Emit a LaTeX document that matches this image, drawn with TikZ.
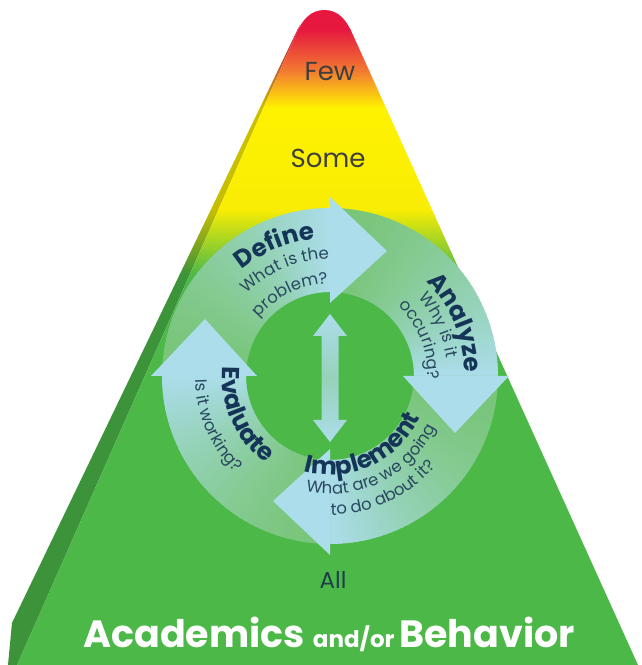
\documentclass[tikz,border=0pt]{standalone}
\usepackage{fontspec}
\setmainfont{Poppins}
\usetikzlibrary{decorations.text}
\definecolor{grn}{RGB}{76,184,72}
\definecolor{yel}{RGB}{255,242,0}
\definecolor{yel2}{RGB}{248,237,4}
\definecolor{org}{RGB}{242,125,48}
\definecolor{rd}{RGB}{230,24,64}
\definecolor{tailc}{RGB}{120,197,120}
\definecolor{headc}{RGB}{172,221,235}
\definecolor{midc}{RGB}{150,210,185}
\definecolor{titlec}{RGB}{20,52,88}
\definecolor{subc}{RGB}{40,72,95}
\definecolor{graytxt}{RGB}{62,62,62}
\definecolor{allc}{RGB}{30,62,72}
\newcommand{\gradrects}{%
  \fill[grn] (0,-1) rectangle (641,390.5);
  \shade[bottom color=grn, top color=yel2] (0,390) rectangle (641,455.5);
  \shade[bottom color=yel2, top color=yel] (0,455) rectangle (641,557.5);
  \shade[bottom color=yel, top color=org] (0,557) rectangle (641,593.5);
  \shade[bottom color=org, top color=rd] (0,593) rectangle (641,635.5);
  \fill[rd] (0,635) rectangle (641,700);
}
\newcommand{\titlefmt}{\fontsize{24.5}{28}\selectfont\bfseries}
\newcommand{\subfmt}{\fontsize{16.5}{19}\selectfont}
% clockwise label: angle, radius, font, colour, text
\newcommand{\cwlabel}[5]{%
  \path[decorate,decoration={text along path,text align=center,text color=#4,text={|#3|#5}}]
    (#1+70:#2) arc[start angle=#1+70,end angle=#1-70,radius=#2];}
\newcommand{\ccwlabel}[5]{%
  \path[decorate,decoration={text along path,text align=center,text color=#4,text={|#3|#5}}]
    (#1-70:#2) arc[start angle=#1-70,end angle=#1+70,radius=#2];}
\begin{document}
\begin{tikzpicture}[x=1pt,y=1pt]
\useasboundingbox (0,0) rectangle (641,665);
\fill[white] (0,0) rectangle (641,665);
% side strip
\begin{scope}
  \clip (8,0) -- (12,42) -- (294,628) -- (300,640) -- (17,0) -- cycle;
  \gradrects
  \fill[black,opacity=.2] (0,0) rectangle (641,665);
\end{scope}
% front face
\begin{scope}
  \clip (17,0) -- (296.6,632) to[out=66,in=180] (324.4,655) to[out=0,in=114.3] (352.1,632) -- (638,0) -- cycle;
  \gradrects
\end{scope}
% cycle
\begin{scope}[shift={(330,289)}]
  \foreach \h in {90,0,-90,-180}{
    \foreach \i in {0,...,44}{
      \pgfmathsetmacro{\a}{\h+90-2*\i}
      \pgfmathsetmacro{\b}{\a-2.6}
      \pgfmathsetmacro{\p}{100*((\i+0.5)/45)^1.6}
      \fill[headc!\p!tailc] (\a:84) arc[start angle=\a,end angle=\b,radius=84]
        -- (\b:168) arc[start angle=\b,end angle=\a,radius=168] -- cycle;
    }
  }
  \foreach \h in {90,0,-90,-180}{
    \fill[headc, rotate=\h-90] (0,73) -- (0,179) -- (57,125) -- cycle;
  }
  \shade[top color=headc, bottom color=headc, middle color=midc]
    (0,62) -- (17,40) -- (8.5,40) -- (8.5,-44) -- (17,-44) -- (0,-66)
    -- (-17,-44) -- (-8.5,-44) -- (-8.5,40) -- (-17,40) -- cycle;
  \cwlabel{113}{138}{\titlefmt}{titlec}{Define}
  \cwlabel{113}{117}{\subfmt}{subc}{What is the}
  \cwlabel{116}{92}{\subfmt}{subc}{problem?}
  \cwlabel{23}{135}{\titlefmt}{titlec}{Analyze}
  \cwlabel{25}{118}{\subfmt}{subc}{Why is it}
  \cwlabel{22}{98}{\subfmt}{subc}{occuring?}
  \ccwlabel{-65}{99}{\titlefmt}{titlec}{Implement}
  \ccwlabel{-64}{118}{\subfmt}{subc}{What are we going}
  \ccwlabel{-65}{139}{\subfmt}{subc}{to do about it?}
  \ccwlabel{204.5}{108}{\titlefmt}{titlec}{Evaluate}
  \ccwlabel{203.5}{135}{\subfmt}{subc}{Is it working?}
\end{scope}
\node[font=\fontsize{26}{30}\selectfont, text=graytxt] (few) at (330,593) {Few};
\node[font=\fontsize{26}{30}\selectfont, text=graytxt] (some) at (328,507) {Some};
\node[font=\fontsize{23}{27}\selectfont, text=allc] (all) at (333,85) {All};
\node[anchor=base, text=white, font=\bfseries] (acad) at (329,17)
  {\fontsize{38}{42}\selectfont Academics \fontsize{23}{27}\selectfont and/or \fontsize{38}{42}\selectfont Behavior};
\end{tikzpicture}
\end{document}
